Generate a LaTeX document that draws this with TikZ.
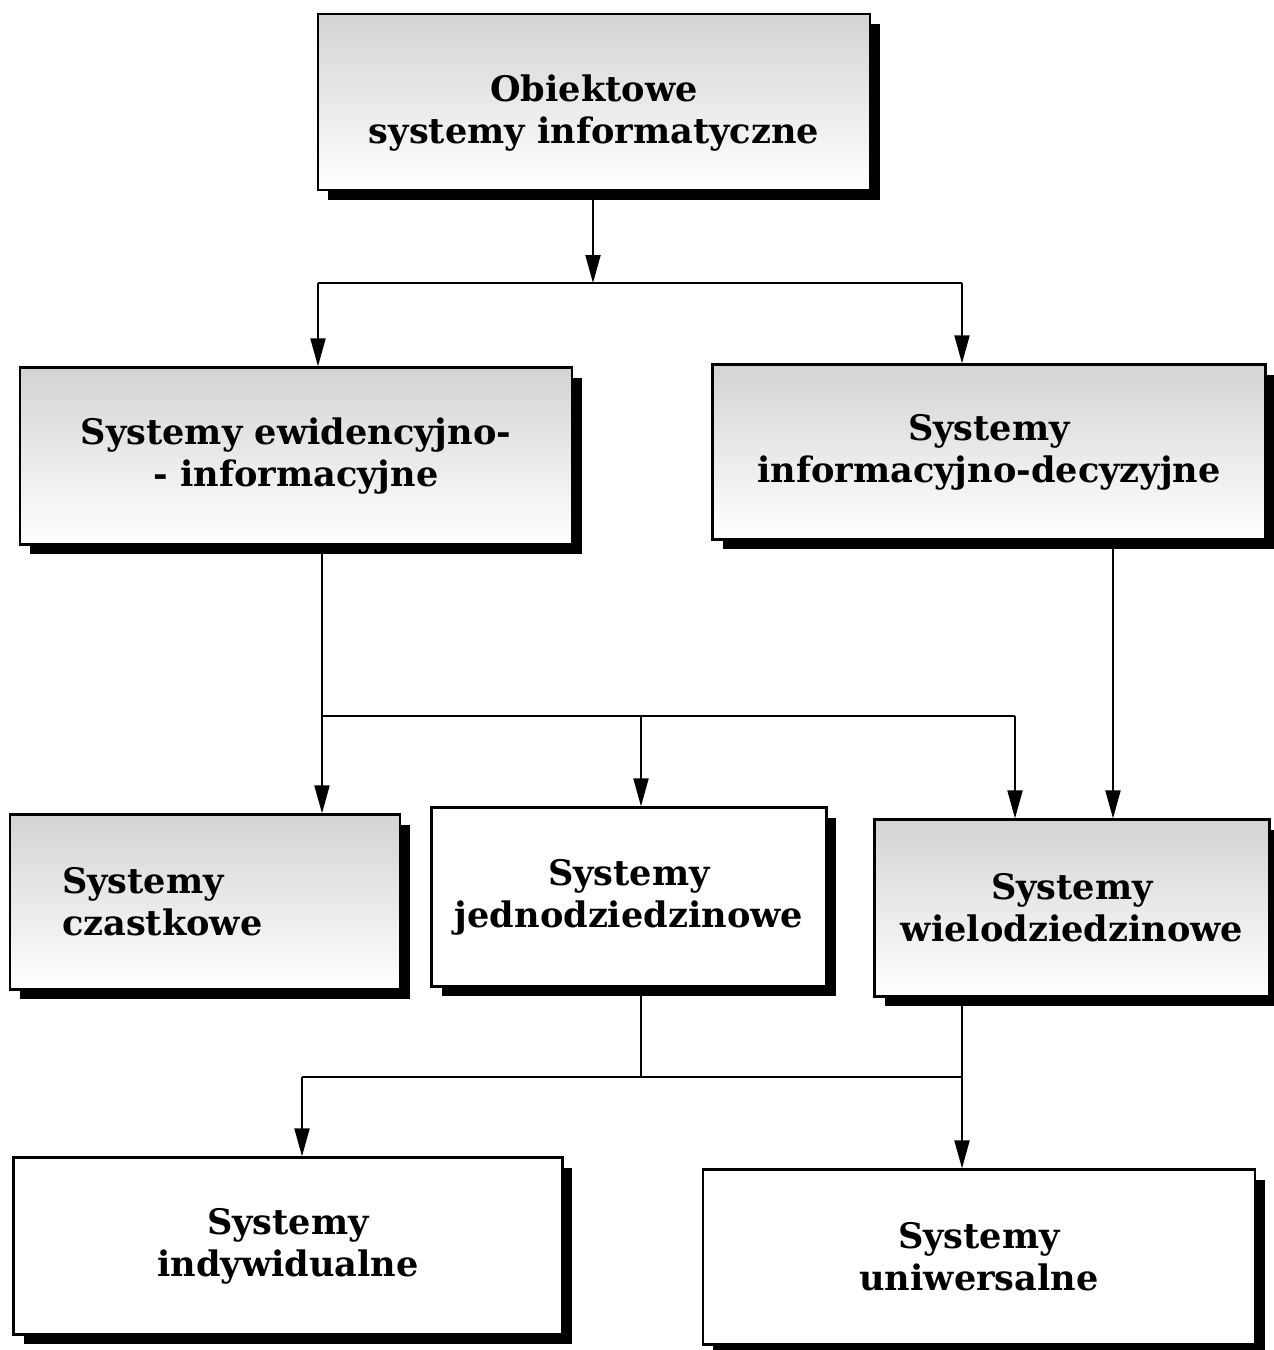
\documentclass[tikz,border=0pt]{standalone}
\usepackage{fontspec}
\setmainfont{DejaVu Serif}
\usetikzlibrary{arrows.meta,shadows}

\tikzset{
  box/.style={draw, line width=1.3pt, fill=white, align=center,
    font=\bfseries\fontsize{20}{24}\selectfont,
    drop shadow={shadow xshift=0.2cm, shadow yshift=-0.2cm, fill=black, opacity=1}},
  grey/.style={top color=black!17, middle color=white, bottom color=white},
  link/.style={line width=1.1pt},
  arr/.style={link, -{Triangle[length=0.56cm,width=0.3cm]}}
}

\begin{document}
\begin{tikzpicture}[x=0.02cm,y=-0.02cm]
  \useasboundingbox (0,0) rectangle (1274,1350);

  % boxes
  \node[box,grey,minimum width=11.04cm,minimum height=3.52cm] (obj) at (594,102)
    {\\[0.12cm]Obiektowe\\systemy informatyczne};
  \node[box,grey,minimum width=11.04cm,minimum height=3.54cm] (ewi) at (296,456)
    {Systemy ewidencyjno-\\- informacyjne};
  \node[box,grey,minimum width=11.06cm,minimum height=3.5cm] (dec) at (989,452)
    {Systemy\\informacyjno-decyzyjne};
  \node[box,grey,minimum width=7.8cm,minimum height=3.5cm,align=left,
    text width=5.72cm,inner xsep=1.04cm] (cza) at (205,902)
    {Systemy\\czastkowe};
  \node[box,minimum width=7.9cm,minimum height=3.58cm] (jed) at (629,897)
    {Systemy\\jednodziedzinowe};
  \node[box,grey,minimum width=7.9cm,minimum height=3.54cm] (wie) at (1072,908)
    {Systemy\\wielodziedzinowe};
  \node[box,minimum width=10.98cm,minimum height=3.54cm] (ind) at (288,1246)
    {Systemy\\indywidualne};
  \node[box,minimum width=11.04cm,minimum height=3.5cm] (uni) at (979,1257)
    {Systemy\\uniwersalne};

  % junctions
  \coordinate (j1) at (593,283);
  \coordinate (l1) at (318,283);
  \coordinate (r1) at (962,283);
  \coordinate (l2) at (322,716);
  \coordinate (m2) at (641,716);
  \coordinate (r2) at (1015,716);
  \coordinate (d2) at (1113,716);
  \coordinate (l3) at (302,1077);
  \coordinate (m3) at (641,1077);
  \coordinate (r3) at (962,1077);

  % connectors
  \draw[arr] (j1 |- obj.south) -- (j1);
  \draw[link] (l1) -- (r1);
  \draw[arr] (l1) -- (l1 |- ewi.north);
  \draw[arr] (r1) -- (r1 |- dec.north);

  \draw[arr] (l2 |- ewi.south) -- (l2 |- cza.north);
  \draw[link] (l2) -- (r2);
  \draw[arr] (m2) -- (m2 |- jed.north);
  \draw[arr] (r2) -- (r2 |- wie.north);
  \draw[arr] (d2 |- dec.south) -- (d2 |- wie.north);

  \draw[link] (m3 |- jed.south) -- (m3);
  \draw[link] (l3) -- (r3);
  \draw[arr] (l3) -- (l3 |- ind.north);
  \draw[arr] (r3 |- wie.south) -- (r3 |- uni.north);
\end{tikzpicture}
\end{document}
